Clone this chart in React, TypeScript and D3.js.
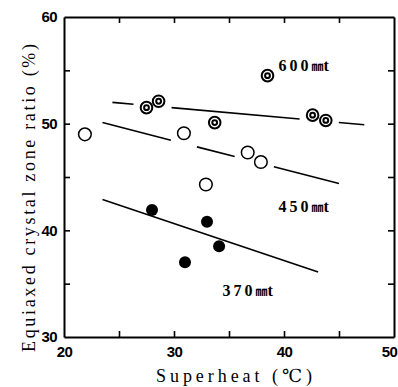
import React, { useEffect, useRef } from 'react';
import * as d3 from 'd3';

interface Pt {
  x: number;
  y: number;
}

// tick values
const xTicks = [20, 25, 30, 35, 40, 45, 50];
const yTicks = [30, 35, 40, 45, 50, 55, 60];

// 600 mm t slabs (double circles)
const pts600: Pt[] = [
  { x: 27.5, y: 51.5 },
  { x: 28.6, y: 52.1 },
  { x: 33.7, y: 50.1 },
  { x: 38.5, y: 54.5 },
  { x: 42.6, y: 50.8 },
  { x: 43.8, y: 50.3 },
];
// 450 mm t (open circles)
const pts450: Pt[] = [
  { x: 21.9, y: 49.0 },
  { x: 30.9, y: 49.1 },
  { x: 32.9, y: 44.3 },
  { x: 36.7, y: 47.3 },
  { x: 37.9, y: 46.4 },
];
// 370 mm t (filled circles)
const pts370: Pt[] = [
  { x: 28.0, y: 41.9 },
  { x: 31.0, y: 37.0 },
  { x: 33.0, y: 40.8 },
  { x: 34.1, y: 38.5 },
];

// trend lines, start and end
const line600: Pt[] = [{ x: 24.4, y: 52.0 }, { x: 47.3, y: 49.9 }];
const line450: Pt[] = [{ x: 23.5, y: 50.1 }, { x: 45.0, y: 44.4 }];
const line370: Pt[] = [{ x: 23.5, y: 42.9 }, { x: 43.1, y: 36.1 }];

// labels for the thickness groups
const groupLabels = [
  { num: '600', x: 39.5, y: 54.9 },
  { num: '450', x: 39.5, y: 41.7 },
  { num: '370', x: 34.4, y: 33.8 },
];

const App: React.FC = () => {
  const svgRef = useRef<SVGSVGElement>(null);

  useEffect(() => {
    if (!svgRef.current) return;
    const width = 398;
    const height = 387;
    const margin = { top: 17, right: 4, bottom: 50, left: 64 };

    const svg = d3.select(svgRef.current);
    svg.selectAll('*').remove();

    const xScale = d3.scaleLinear().domain([20, 50]).range([margin.left, width - margin.right]);
    const yScale = d3.scaleLinear().domain([30, 60]).range([height - margin.bottom, margin.top]);

    const tickFont = "'Liberation Sans', Arial, sans-serif";
    const labelFmt = (d: d3.NumberValue) => (+d % 10 === 0 ? String(d) : '');

    const styleAxis = (g: d3.Selection<SVGGElement, unknown, null, undefined>) => {
      g.select('.domain').attr('stroke', '#000').attr('stroke-width', 2);
      g.selectAll('.tick line').attr('stroke', '#000').attr('stroke-width', 1.6);
      g.selectAll('.tick text')
        .attr('fill', '#000')
        .attr('font-weight', 'bold')
        .style('font-family', tickFont)
        .style('font-weight', 700)
        .style('font-size', '15px')
        .style('letter-spacing', '-0.6px');
    };

    const inner = (t: number) => t > 20 && t < 50;
    const innerY = (t: number) => t > 30 && t < 60;

    const bottom = svg.append('g')
      .attr('transform', `translate(0,${yScale(30)})`)
      .call(d3.axisBottom(xScale).tickValues(xTicks).tickSizeInner(-6).tickSizeOuter(0).tickPadding(9).tickFormat(labelFmt))
      .call(styleAxis);
    bottom.selectAll<SVGLineElement, number>('.tick line')
      .attr('display', d => (inner(d) ? null : 'none'));
    bottom.selectAll<SVGTextElement, number>('.tick text')
      .attr('dx', d => (d === 50 ? -5 : 0));

    svg.append('g')
      .attr('transform', `translate(${xScale(20)},0)`)
      .call(d3.axisLeft(yScale).tickValues(yTicks).tickSizeInner(-6).tickSizeOuter(0).tickPadding(7).tickFormat(labelFmt))
      .call(styleAxis)
      .selectAll<SVGLineElement, number>('.tick line')
      .attr('display', d => (innerY(d) ? null : 'none'));

    svg.append('g')
      .attr('transform', `translate(0,${yScale(60)})`)
      .call(d3.axisTop(xScale).tickValues(xTicks).tickSizeInner(-6).tickSizeOuter(0).tickFormat(() => ''))
      .call(styleAxis)
      .selectAll<SVGLineElement, number>('.tick line')
      .attr('display', d => (inner(d) ? null : 'none'));

    svg.append('g')
      .attr('transform', `translate(${xScale(50)},0)`)
      .call(d3.axisRight(yScale).tickValues(yTicks).tickSizeInner(-6).tickSizeOuter(0).tickFormat(() => ''))
      .call(styleAxis)
      .selectAll<SVGLineElement, number>('.tick line')
      .attr('display', d => (innerY(d) ? null : 'none'));

    // trend lines, broken where a marker sits on them
    const drawBroken = (ends: Pt[], marks: Pt[], gap: number) => {
      const x0 = xScale(ends[0].x), y0 = yScale(ends[0].y);
      const x1 = xScale(ends[1].x), y1 = yScale(ends[1].y);
      const slope = (y1 - y0) / (x1 - x0);
      const cosA = Math.cos(Math.atan(slope));
      const cuts: [number, number][] = marks
        .map(p => ({ px: xScale(p.x), py: yScale(p.y) }))
        .filter(m => Math.abs(m.py - (y0 + (m.px - x0) * slope)) * cosA < 10.8)
        .map(m => [m.px - gap, m.px + gap] as [number, number])
        .sort((a, b) => a[0] - b[0]);
      const merged: [number, number][] = [];
      cuts.forEach(c => {
        const last = merged[merged.length - 1];
        if (last && c[0] <= last[1]) last[1] = Math.max(last[1], c[1]);
        else merged.push([c[0], c[1]]);
      });
      const segs: [number, number][] = [];
      let start = x0;
      merged.forEach(c => {
        if (c[0] > start) segs.push([start, Math.min(c[0], x1)]);
        start = Math.max(start, c[1]);
      });
      if (start < x1) segs.push([start, x1]);
      const lineGen = d3.line<number>().x(d => d).y(d => y0 + (d - x0) * slope);
      segs.forEach(s => {
        svg.append('path')
          .attr('d', lineGen(s))
          .attr('fill', 'none')
          .attr('stroke', '#000')
          .attr('stroke-width', 1.6);
      });
    };

    drawBroken(line600, pts600, 13);
    drawBroken(line450, pts450, 13);
    drawBroken(line370, [], 0);

    // markers
    const g600 = svg.append('g');
    g600.selectAll('circle.outer')
      .data(pts600)
      .enter()
      .append('circle')
      .attr('cx', d => xScale(d.x))
      .attr('cy', d => yScale(d.y))
      .attr('r', 5.8)
      .attr('fill', '#fff')
      .attr('stroke', '#000')
      .attr('stroke-width', 2);
    g600.selectAll('circle.inner')
      .data(pts600)
      .enter()
      .append('circle')
      .attr('cx', d => xScale(d.x))
      .attr('cy', d => yScale(d.y))
      .attr('r', 2.4)
      .attr('fill', '#fff')
      .attr('stroke', '#000')
      .attr('stroke-width', 2);

    svg.append('g')
      .selectAll('circle')
      .data(pts450)
      .enter()
      .append('circle')
      .attr('cx', d => xScale(d.x))
      .attr('cy', d => yScale(d.y))
      .attr('r', 6.3)
      .attr('fill', '#fff')
      .attr('stroke', '#000')
      .attr('stroke-width', 1.5);

    svg.append('g')
      .selectAll('circle')
      .data(pts370)
      .enter()
      .append('circle')
      .attr('cx', d => xScale(d.x))
      .attr('cy', d => yScale(d.y))
      .attr('r', 6)
      .attr('fill', '#000');

    // group labels, e.g. "600㎜t"
    groupLabels.forEach(l => {
      const t = svg.append('text')
        .attr('x', xScale(l.x))
        .attr('y', yScale(l.y))
        .attr('fill', '#000')
        .style('font-family', "'Liberation Serif', 'Times New Roman', serif")
        .style('font-weight', 'bold');
      t.append('tspan')
        .style('font-size', '16px')
        .style('letter-spacing', '3px')
        .text(l.num);
      t.append('tspan')
        .style('font-family', "'Noto Sans CJK JP', sans-serif")
        .style('font-size', '12px')
        .style('font-weight', 'bold')
        .text('㎜');
      t.append('tspan')
        .style('font-size', '16px')
        .text('t');
    });

    // axis titles
    svg.append('text')
      .attr('x', 156)
      .attr('y', 382)
      .attr('textLength', 156)
      .attr('lengthAdjust', 'spacing')
      .attr('fill', '#000')
      .style('font-family', "'Liberation Serif', 'DejaVu Serif', serif")
      .style('font-size', '18px')
      .text('Superheat (℃)');

    svg.append('text')
      .attr('transform', 'translate(35,352) rotate(-90)')
      .attr('textLength', 308)
      .attr('lengthAdjust', 'spacing')
      .attr('fill', '#000')
      .style('font-family', "'Liberation Serif', 'DejaVu Serif', serif")
      .style('font-size', '18px')
      .text('Equiaxed crystal zone ratio (%)');
  }, []);

  return (
    <div style={{ position: 'absolute', left: 0, top: 0 }}>
      <svg ref={svgRef} width={398} height={387} style={{ display: 'block', background: '#fff' }} />
    </div>
  );
};

export default App;
